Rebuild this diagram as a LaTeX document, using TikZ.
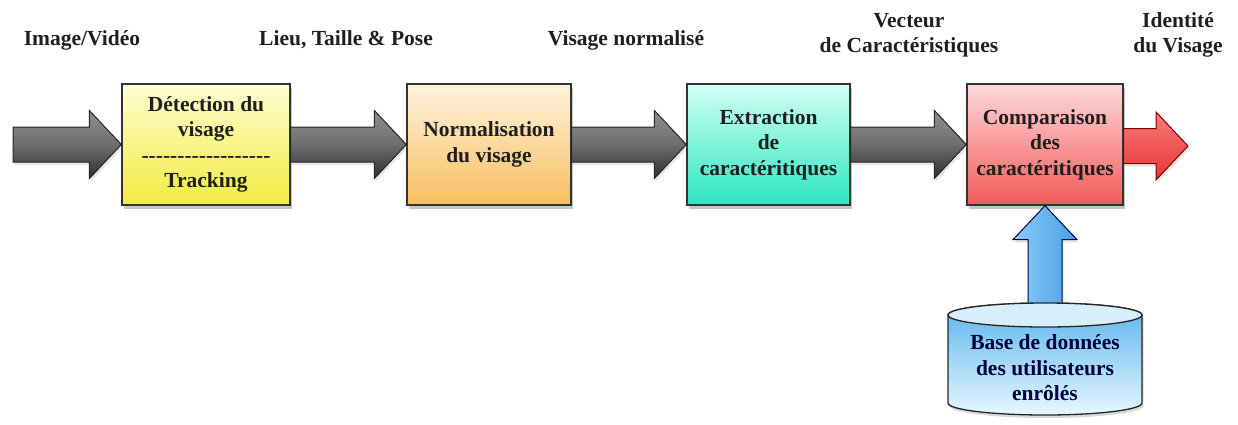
\documentclass[tikz,border=0pt]{standalone}
\usepackage{fontspec}
\setmainfont{Liberation Serif}
\usetikzlibrary{calc,shadows}

\definecolor{ylwTop}{HTML}{FFFDD2}
\definecolor{ylwBot}{HTML}{F0EC40}
\definecolor{orgTop}{HTML}{FFF3DE}
\definecolor{orgBot}{HTML}{F7BE5E}
\definecolor{tealTop}{HTML}{D2FFF3}
\definecolor{tealBot}{HTML}{2EE6C2}
\definecolor{redTop}{HTML}{FFD8D8}
\definecolor{redBot}{HTML}{F05A5A}
\definecolor{greyTop}{HTML}{8E8E8E}
\definecolor{greyMid}{HTML}{6E6E6E}
\definecolor{greyBot}{HTML}{2E2E2E}
\definecolor{arrRedTop}{HTML}{FA7A7A}
\definecolor{arrRedBot}{HTML}{E83434}
\definecolor{arrBlueL}{HTML}{8ACCF8}
\definecolor{arrBlueR}{HTML}{4A9EE6}
\definecolor{dbTop}{HTML}{5AB4EA}
\definecolor{dbBot}{HTML}{E6F8FF}
\definecolor{dbLid}{HTML}{D6EFFB}

% horizontal block arrow: style, start point, tip
\newcommand\blockarrowH[3]{%
  \path[#1] let \p1=(#2), \p2=(#3) in
    (\x1,\y2+17.5pt) -- (\x2-32pt,\y2+17.5pt) -- (\x2-32pt,\y2+34pt) -- (\x2,\y2)
    -- (\x2-32pt,\y2-34pt) -- (\x2-32pt,\y2-17.5pt) -- (\x1,\y2-17.5pt) -- cycle;}
% vertical block arrow pointing up: style, start point, tip
\newcommand\blockarrowV[3]{%
  \path[#1] let \p1=(#2), \p2=(#3) in
    (\x2-17pt,\y1-6pt) -- (\x2-17pt,\y2-34pt) -- (\x2-32pt,\y2-34pt) -- (\x2,\y2)
    -- (\x2+32pt,\y2-34pt) -- (\x2+17pt,\y2-34pt) -- (\x2+17pt,\y1-6pt) -- cycle;}

\begin{document}
\begin{tikzpicture}[x=1pt,y=-1pt,
  txt/.style={font=\bfseries\fontsize{21.5}{25.5}\selectfont, align=center, text=black!88, inner sep=0pt},
  stage/.style={txt, draw=black!80, line width=1.3pt, minimum width=#1, minimum height=121pt,
    drop shadow={shadow xshift=2pt, shadow yshift=-4pt, opacity=0.45}},
  arrshadow/.style={drop shadow={shadow xshift=1.5pt, shadow yshift=-3pt, opacity=0.2}},
  greyarrow/.style={arrshadow, top color=greyTop, bottom color=greyBot, middle color=greyMid,
    draw=black!85, line width=1pt},
  redarrow/.style={arrshadow, top color=arrRedTop, bottom color=arrRedBot, draw=red!50!black, line width=1pt},
  bluearrow/.style={arrshadow, left color=arrBlueL, right color=arrBlueR, draw=blue!30!black, line width=1pt},
]
\useasboundingbox (0,0) rectangle (1238,424);

% top labels
\node[txt, anchor=base] (lin)  at (82,45)  {Image/Vidéo};
\node[txt, anchor=base] (lpos) at (346,45) {Lieu, Taille \& Pose};
\node[txt, anchor=base] (lnor) at (626,45) {Visage normalisé};
\node[txt] (lvec) at (909,35)  {Vecteur\\de Caractéristiques};
\node[txt] (lid)  at (1178,35) {Identité\\du Visage};

% processing stages
\node[stage=168pt, top color=ylwTop, bottom color=ylwBot] (det) at (206,144.5)
  {Détection du\\visage\\-{}-{}-{}-{}-{}-{}-{}-{}-{}-{}-{}-{}-{}-{}-{}-{}-{}-\\Tracking};
\node[stage=164pt, top color=orgTop, bottom color=orgBot] (nor) at (489,144.5)
  {Normalisation\\du visage};
\node[stage=163pt, top color=tealTop, bottom color=tealBot] (ext) at (768.5,144.5)
  {Extraction\\de\\caractéritiques};
\node[stage=156pt, top color=redTop, bottom color=redBot] (cmp) at (1045,144.5)
  {Comparaison\\des\\caractéritiques};

\coordinate (src) at (13,146);
\coordinate (out) at (1188,146);

% flow arrows
\blockarrowH{greyarrow}{src}{det.west}
\blockarrowH{greyarrow}{det.east}{nor.west}
\blockarrowH{greyarrow}{nor.east}{ext.west}
\blockarrowH{greyarrow}{ext.east}{cmp.west}
\blockarrowH{redarrow}{cmp.east}{out}

% database cylinder
\path[top color=dbTop, bottom color=dbBot, draw=black!85, line width=1.3pt,
      drop shadow={shadow xshift=1.5pt, shadow yshift=-3pt, opacity=0.3}]
  (948,315) -- (948,403) arc[start angle=180, end angle=360, x radius=97pt, y radius=12pt]
  -- (1142,315) arc[start angle=0, end angle=180, x radius=97pt, y radius=12pt] -- cycle;
\coordinate (dbtop) at (1045,303);
\blockarrowV{bluearrow}{dbtop}{cmp.south}
\filldraw[fill=dbLid, draw=black!85, line width=1.3pt] (1045,315) ellipse [x radius=97pt, y radius=12pt];
\node[txt, text=blue!25!black] (db) at (1045,368) {Base de données\\des utilisateurs\\enrôlés};
\end{tikzpicture}
\end{document}
